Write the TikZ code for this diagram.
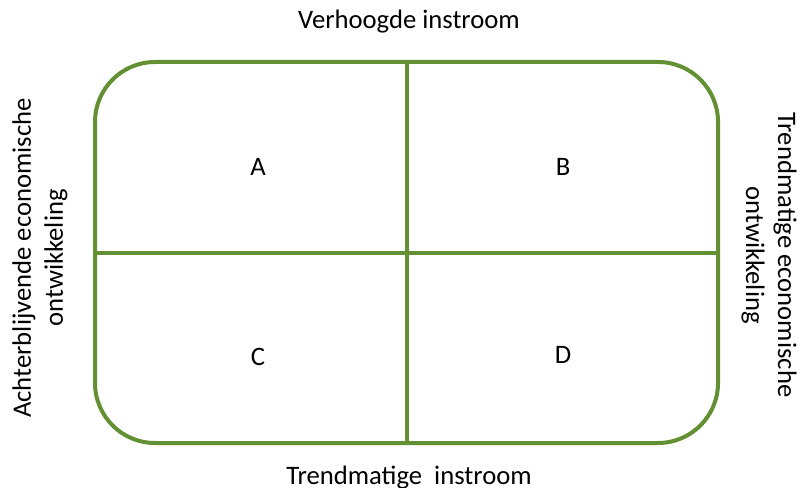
\documentclass[tikz,border=0pt]{standalone}
\usepackage{fontspec}
\setmainfont{Carlito}
\usepackage{tikz}
\usetikzlibrary{positioning}

\definecolor{quadgreen}{RGB}{98,144,50}

\begin{document}
\begin{tikzpicture}
		[
		x = 0.75pt, y = -0.75pt,
		frame/.style = {draw = quadgreen, line width = 3pt},
		label/.style = {font = \fontsize{20}{24}\selectfont, align = center},
		]
		
		\useasboundingbox (0,0) rectangle (798,488);
		
		\node[frame, rounded corners = 45pt, minimum width = 623*0.75pt, minimum height = 381*0.75pt] (box) at (406.5,252.5) {};
		\draw[frame] (box.north) -- (box.south);
		\draw[frame] (box.west) -- (box.east);
		
		\node[label] (a) at (258,167) {A};
		\node[label] (b) at (563,167) {B};
		\node[label] (c) at (258,357) {C};
		\node[label] (d) at (563,355) {D};
		
		\node[label] (top) at (409,22) {Verhoogde instroom};
		\node[label] (bottom) at (409,478) {Trendmatige\ \ instroom};
		\node[label, rotate = 90] (left) at (40,258) {Achterblijvende economische\\ontwikkeling};
		\node[label, rotate = -90] (right) at (769,255) {Trendmatige economische\\ontwikkeling};
		
		\end{tikzpicture}
\end{document}
